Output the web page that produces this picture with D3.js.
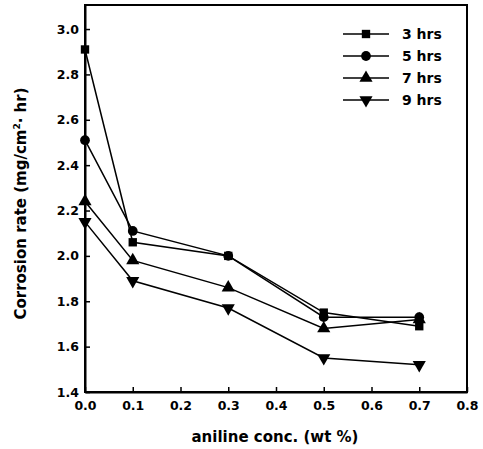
<!DOCTYPE html>
<html>
<head>
<meta charset="utf-8">
<script src="https://cdn.jsdelivr.net/npm/d3@7"></script>
<style>
  body { margin: 0; background: #fff; }
  text { font-family: "DejaVu Sans", sans-serif; font-weight: bold; fill: #000; }
</style>
</head>
<body>
<div id="chart"></div>
<script>
// data
const conc = [0.0, 0.1, 0.3, 0.5, 0.7];
const hrs3 = [2.91, 2.06, 2.00, 1.75, 1.69];
const hrs5 = [2.51, 2.11, 2.00, 1.73, 1.73];
const hrs7 = [2.24, 1.98, 1.86, 1.68, 1.72];
const hrs9 = [2.15, 1.89, 1.77, 1.55, 1.52];
const seriesNames = ["3 hrs", "5 hrs", "7 hrs", "9 hrs"];
const xTicks = [0.0, 0.1, 0.2, 0.3, 0.4, 0.5, 0.6, 0.7, 0.8];
const yTicks = [1.4, 1.6, 1.8, 2.0, 2.2, 2.4, 2.6, 2.8, 3.0];

const series = [
  {name: seriesNames[0], values: hrs3, symbol: d3.symbolSquare, size: 70, rot: 0},
  {name: seriesNames[1], values: hrs5, symbol: d3.symbolCircle, size: 75, rot: 0},
  {name: seriesNames[2], values: hrs7, symbol: d3.symbolTriangle, size: 75, rot: 0},
  {name: seriesNames[3], values: hrs9, symbol: d3.symbolTriangle, size: 75, rot: 180}
];

const W = 483, H = 449;
const margin = {top: 5, right: 16, bottom: 57, left: 85};

const svg = d3.select("#chart").append("svg").attr("width", W).attr("height", H);

const x = d3.scaleLinear().domain([0, 0.8]).range([margin.left, W - margin.right]);
const y = d3.scaleLinear().domain([1.4, 3.106]).range([H - margin.bottom, margin.top]);

// frame
svg.append("rect")
  .attr("x", x(0)).attr("y", y(3.106))
  .attr("width", x(0.8) - x(0)).attr("height", y(1.4) - y(3.106))
  .attr("fill", "none").attr("stroke", "#000").attr("stroke-width", 2);

// axes, ticks inward
const xAxis = svg.append("g")
  .attr("transform", "translate(0," + y(1.4) + ")")
  .call(d3.axisBottom(x).tickValues(xTicks).tickFormat(d3.format(".1f")).tickSizeInner(-5).tickSizeOuter(0).tickPadding(9));
const yAxis = svg.append("g")
  .attr("transform", "translate(" + x(0) + ",0)")
  .call(d3.axisLeft(y).tickValues(yTicks).tickFormat(d3.format(".1f")).tickSizeInner(-5).tickSizeOuter(0).tickPadding(6));
[xAxis, yAxis].forEach(a => {
  a.select(".domain").attr("stroke-width", 2);
  a.selectAll(".tick line").attr("stroke-width", 1.5);
  a.selectAll("text").style("font-size", "12.5px").style("font-family", "DejaVu Sans, sans-serif").style("font-weight", "bold");
});

// axis titles
svg.append("text")
  .attr("x", (x(0) + x(0.8)) / 2 - 1).attr("y", 442)
  .attr("text-anchor", "middle").style("font-size", "15px")
  .text("aniline conc. (wt %)");

const yt = svg.append("text")
  .attr("transform", "translate(26," + ((y(1.4) + y(3.106)) / 2 + 5) + ") rotate(-90)")
  .attr("text-anchor", "middle").style("font-size", "15px");
yt.append("tspan").text("Corrosion rate  (mg/cm");
yt.append("tspan").attr("dy", -6).style("font-size", "9px").text("2");
yt.append("tspan").attr("dy", 6).text("·  hr)");

// lines and markers
const line = d3.line().x((d, i) => x(conc[i])).y(d => y(d));
series.forEach(s => {
  svg.append("path").datum(s.values)
    .attr("d", line).attr("fill", "none").attr("stroke", "#000").attr("stroke-width", 1.5);
  svg.selectAll(null).data(s.values).enter().append("path")
    .attr("d", d3.symbol().type(s.symbol).size(s.size))
    .attr("transform", (d, i) => "translate(" + x(conc[i]) + "," + y(d) + ") rotate(" + s.rot + ")")
    .attr("fill", "#000");
});

// legend
const lg = svg.append("g").attr("transform", "translate(343,34)");
series.forEach((s, i) => {
  const row = lg.append("g").attr("transform", "translate(0," + (i * 22) + ")");
  row.append("line").attr("x1", 0).attr("x2", 46).attr("y1", 0).attr("y2", 0)
    .attr("stroke", "#000").attr("stroke-width", 1.5);
  row.append("path").attr("d", d3.symbol().type(s.symbol).size(s.size))
    .attr("transform", "translate(23,0) rotate(" + s.rot + ")").attr("fill", "#000");
  row.append("text").attr("x", 59).attr("y", 5).style("font-size", "14px").text(s.name);
});
</script>
</body>
</html>
